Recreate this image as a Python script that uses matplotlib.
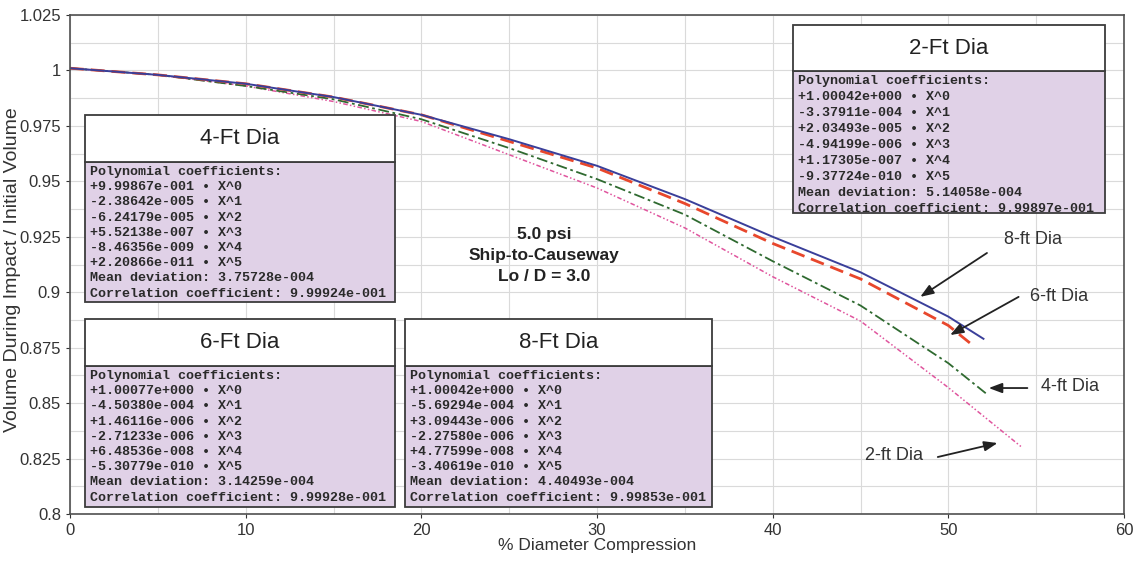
import numpy as np
import matplotlib
matplotlib.use("Agg")
import matplotlib.pyplot as plt
from matplotlib.patches import Rectangle

plt.rcParams["font.family"] = ["Liberation Sans", "DejaVu Sans"]

# curve readings (x = % diameter compression, y = volume ratio)
x_8ft = [0, 5, 10, 15, 20, 25, 30, 35, 40, 45, 50, 52.0]
v_8ft = [1.001, 0.998, 0.994, 0.988, 0.980, 0.969, 0.957, 0.942, 0.925, 0.909, 0.889, 0.879]
x_6ft = [0, 5, 10, 15, 20, 25, 30, 35, 40, 45, 50, 51.4]
v_6ft = [1.001, 0.998, 0.994, 0.988, 0.980, 0.968, 0.956, 0.940, 0.922, 0.906, 0.885, 0.876]
x_4ft = [0, 5, 10, 15, 20, 25, 30, 35, 40, 45, 50, 52.2]
v_4ft = [1.001, 0.998, 0.993, 0.987, 0.978, 0.965, 0.951, 0.935, 0.914, 0.894, 0.868, 0.854]
x_2ft = [0, 5, 10, 15, 20, 25, 30, 35, 40, 45, 50, 54.2]
v_2ft = [1.001, 0.998, 0.993, 0.986, 0.977, 0.962, 0.947, 0.929, 0.907, 0.887, 0.857, 0.830]

coef_2ft = ["+1.00042e+000", "-3.37911e-004", "+2.03493e-005", "-4.94199e-006",
            "+1.17305e-007", "-9.37724e-010"]
stats_2ft = ["5.14058e-004", "9.99897e-001"]
coef_4ft = ["+9.99867e-001", "-2.38642e-005", "-6.24179e-005", "+5.52138e-007",
            "-8.46356e-009", "+2.20866e-011"]
stats_4ft = ["3.75728e-004", "9.99924e-001"]
coef_6ft = ["+1.00077e+000", "-4.50380e-004", "+1.46116e-006", "-2.71233e-006",
            "+6.48536e-008", "-5.30779e-010"]
stats_6ft = ["3.14259e-004", "9.99928e-001"]
coef_8ft = ["+1.00042e+000", "-5.69294e-004", "+3.09443e-006", "-2.27580e-006",
            "+4.77599e-008", "-3.40619e-010"]
stats_8ft = ["4.40493e-004", "9.99853e-001"]

W, H = 1134, 564
fig = plt.figure(figsize=(W / 100, H / 100), dpi=100)
ax = fig.add_axes([70 / W, 1 - 514 / H, (1124 - 70) / W, (514 - 15) / H])

gray = "#333333"
ax.set_xlim(0, 60)
ax.set_ylim(0.8, 1.025)
ax.set_xticks(np.arange(0, 61, 10))
yt = np.arange(0.8, 1.0251, 0.025)
ax.set_yticks(yt)
ax.set_yticklabels([f"{v:.3f}".rstrip("0").rstrip(".") for v in yt])
ax.set_xticks(np.arange(0, 61, 5), minor=True)
ax.set_yticks(np.arange(0.8, 1.0251, 0.0125), minor=True)
ax.tick_params(which="minor", length=0)
ax.tick_params(which="major", length=3, labelsize=12, colors=gray)
ax.grid(which="both", color="#dadada", lw=0.8)
ax.set_axisbelow(True)
for s in ax.spines.values():
    s.set_color("#505050")
    s.set_linewidth(1.2)
ax.set_xlabel("% Diameter Compression", fontsize=12.5, color=gray, labelpad=0)
fig.text(13 / W, 1 - 270 / H, "Volume During Impact / Initial Volume", rotation=90,
         ha="center", va="center", fontsize=14, color=gray)

ax.plot(x_2ft, v_2ft, color="#e0559e", lw=1.1, ls=(0, (3, 1.5, 1, 1.5, 1, 1.5)))
ax.plot(x_4ft, v_4ft, color="#2f6a30", lw=1.3, ls=(0, (6, 2, 1.5, 2)))
ax.plot(x_6ft, v_6ft, color="#e8472c", lw=2.0, ls=(0, (5, 2.5)))
ax.plot(x_8ft, v_8ft, color="#3a3f9a", lw=1.4)


def px(x, y):
    return x / W, 1 - y / H


def draw_box(x0, x1, ytop, yhead, ybot, title, coefs, stats, step=15.2):
    fx0, fy = px(x0, yhead)
    fx1, _ = px(x1, 0)
    _, ft = px(0, ytop)
    _, fb = px(0, ybot)
    fig.add_artist(Rectangle((fx0, fb), fx1 - fx0, fy - fb, transform=fig.transFigure,
                             facecolor="#e0d1e7", edgecolor="#3c3c3c", lw=1.3, zorder=5))
    fig.add_artist(Rectangle((fx0, fy), fx1 - fx0, ft - fy, transform=fig.transFigure,
                             facecolor="white", edgecolor="#3c3c3c", lw=1.3, zorder=5))
    cx, cy = px((x0 + x1) / 2, (ytop + yhead) / 2)
    fig.text(cx, cy, title, ha="center", va="center", fontsize=16, color="#222222",
             zorder=6)
    lines = ["Polynomial coefficients:"]
    lines += [f"{c} \u2022 X^{i}" for i, c in enumerate(coefs)]
    lines += [f"Mean deviation: {stats[0]}", f"Correlation coefficient: {stats[1]}"]
    for k, ln in enumerate(lines):
        tx, ty = px(x0 + 5, yhead + 10 + k * step)
        fig.text(tx, ty, ln, ha="left", va="center", fontsize=9.6, fontweight="bold",
                 family="Liberation Mono", color="#2a2a2a", zorder=6)


draw_box(85, 395, 115, 162, 302, "4-Ft Dia", coef_4ft, stats_4ft)
draw_box(85, 395, 319, 366, 507, "6-Ft Dia", coef_6ft, stats_6ft)
draw_box(405, 712, 319, 366, 507, "8-Ft Dia", coef_8ft, stats_8ft)
draw_box(793, 1105, 25, 71, 213, "2-Ft Dia", coef_2ft, stats_2ft, step=16.0)

ax.text(27.0, 0.9165, "5.0 psi\nShip-to-Causeway\nLo / D = 3.0", ha="center", va="center",
        fontsize=12.5, fontweight="bold", color="#222222", linespacing=1.5)

# curve labels with arrows
labels = [("8-ft Dia", (54.8, 0.9236), (52.2, 0.9177), (48.4, 0.8979)),
          ("6-ft Dia", (56.3, 0.8979), (54.0, 0.8979), (50.1, 0.8807)),
          ("4-ft Dia", (56.9, 0.8573), (54.5, 0.8568), (52.3, 0.8568)),
          ("2-ft Dia", (46.9, 0.8266), (49.4, 0.8257), (52.8, 0.8320))]
for txt, tpos, tail, head in labels:
    ax.text(tpos[0], tpos[1], txt, ha="center", va="center", fontsize=13,
            color="#333333")
    ax.annotate("", xy=head, xytext=tail,
                arrowprops=dict(arrowstyle="-|>,head_length=0.8,head_width=0.3",
                                color="#222222", lw=1.3, shrinkA=0, shrinkB=0))

fig.savefig("out.png", dpi=100)
